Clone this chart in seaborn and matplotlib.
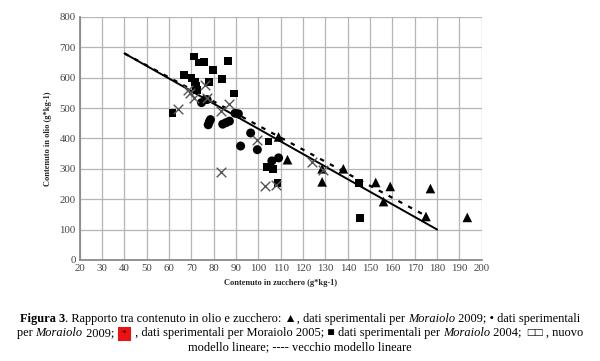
import numpy as np
import pandas as pd
import matplotlib
matplotlib.use('Agg')
import matplotlib.pyplot as plt
import seaborn as sns

##### Data ###################################################################

# triangles: Moraiolo 2009
tri_x = [109, 113, 128.5, 128.5, 138, 152.5, 156, 159, 175, 177, 193.5]
tri_y = [405, 330, 300, 257, 300, 255, 192, 242, 143, 235, 140]
# circles: Moraiolo 2009
dot_x = [74.5, 77, 77.5, 78, 78.5, 84, 85.5, 87, 89.5, 91, 92, 96.5, 99.5, 106, 109]
dot_y = [518, 528, 445, 455, 462, 447, 452, 457, 483, 481, 375, 418, 363, 326, 336]
# crosses: Moraiolo 2005
crs_x = [64, 68.5, 69.5, 71, 76, 77, 83, 87, 99.5, 83, 103, 108, 124, 129]
crs_y = [498, 560, 548, 532, 576, 534, 490, 514, 395, 290, 243, 248, 322, 296]
# squares: Moraiolo 2004
sq_x = [61.5, 66.5, 71, 73.5, 75.5, 70, 71.5, 72, 72.5, 78, 79.5, 83.5, 86.5, 89,
        104.5, 104, 106.5, 108.5, 145, 145.5]
sq_y = [485, 610, 670, 650, 652, 598, 585, 572, 560, 585, 625, 597, 656, 548,
        390, 306, 300, 252, 253, 137]
# linear models
new_x = [40, 180]
new_y = [680, 100]
old_x = [40, 175]
old_y = [680, 145]

x_ticks = list(range(20, 201, 10))
y_ticks = list(range(0, 801, 100))

##### Plot ###################################################################

sns.set_style('white')
plt.rcParams['font.family'] = ['Liberation Serif', 'DejaVu Sans']

fig = plt.figure(figsize=(6, 3.61), dpi=100)
ax = fig.add_axes([0.133, 0.28, 0.67, 0.673])

sns.lineplot(x=new_x, y=new_y, ax=ax, color='black', lw=1.4)
sns.lineplot(x=old_x, y=old_y, ax=ax, color='black', lw=1.6, linestyle=(0, (2, 3)))

sns.scatterplot(x=sq_x, y=sq_y, ax=ax, marker='s', s=32, color='black', edgecolor='none', zorder=3)
sns.scatterplot(x=dot_x, y=dot_y, ax=ax, marker='o', s=42, color='black', edgecolor='none', zorder=3)
sns.scatterplot(x=tri_x, y=tri_y, ax=ax, marker='^', s=48, color='black', edgecolor='none', zorder=3)
sns.scatterplot(x=crs_x, y=crs_y, ax=ax, marker='x', s=48, color='#555555', linewidth=1.0, zorder=3)

ax.set_xlim(20, 200)
ax.set_ylim(0, 800)
ax.set_xticks(x_ticks)
ax.set_yticks(y_ticks)
ax.grid(True, color='#b5b5b5', lw=0.9)
ax.set_axisbelow(True)
for side in ['top', 'right']:
    ax.spines[side].set_visible(False)
for side in ['left', 'bottom']:
    ax.spines[side].set_color('#8a8a8a')
    ax.spines[side].set_linewidth(1.3)
ax.tick_params(axis='both', labelsize=7.8, colors='#444444', length=2, width=0.8, pad=1)
ax.tick_params(axis='both', labelcolor='#444444')
ax.set_xlabel('Contenuto in zucchero (g*kg-1)', fontsize=6, fontweight='bold', labelpad=4)
ax.set_ylabel('Contenuto in olio (g*kg-1)', fontsize=6, fontweight='bold', labelpad=5)

##### Caption ################################################################

def caption_line(parts, y, size=8.9):
    renderer = fig.canvas.get_renderer()
    texts = []
    widths = []
    for s, style in parts:
        kw = dict(fontsize=size, va='baseline', ha='left', color='black')
        if style == 'b':
            kw['fontweight'] = 'bold'
        elif style == 'i':
            kw['fontstyle'] = 'italic'
        elif style == 'box':
            kw['fontsize'] = size * 0.7
            kw['bbox'] = dict(facecolor='#ee1111', edgecolor='none', pad=1.8)
        t = fig.text(0, y, s, **kw)
        w = t.get_window_extent(renderer).width
        if style == 'box':
            w += 6
        texts.append((t, style))
        widths.append(w)
    total = sum(widths)
    x = (fig.bbox.width - total) / 2
    for (t, style), w in zip(texts, widths):
        t.set_x((x + (3 if style == 'box' else 0)) / fig.bbox.width)
        x += w

caption_line([('Figura 3', 'b'),
              ('. Rapporto tra contenuto in olio e zucchero: \u25b2, dati sperimentali per ', 'n'),
              ('Moraiolo', 'i'),
              (' 2009; \u2022 dati sperimentali', 'n')], 1 - 322 / 361)
caption_line([('per ', 'n'), ('Moraiolo', 'i'), (' 2009; ', 'n'), (' * ', 'box'),
              (' , dati sperimentali per Moraiolo 2005; \u25a0 dati sperimentali per ', 'n'),
              ('Moraiolo', 'i'), (' 2004;  \u25a1\u25a1 , nuovo', 'n')], 1 - 336 / 361)
caption_line([('modello lineare; ---- vecchio modello lineare', 'n')], 1 - 350 / 361)

fig.savefig('out.png', dpi=100)
